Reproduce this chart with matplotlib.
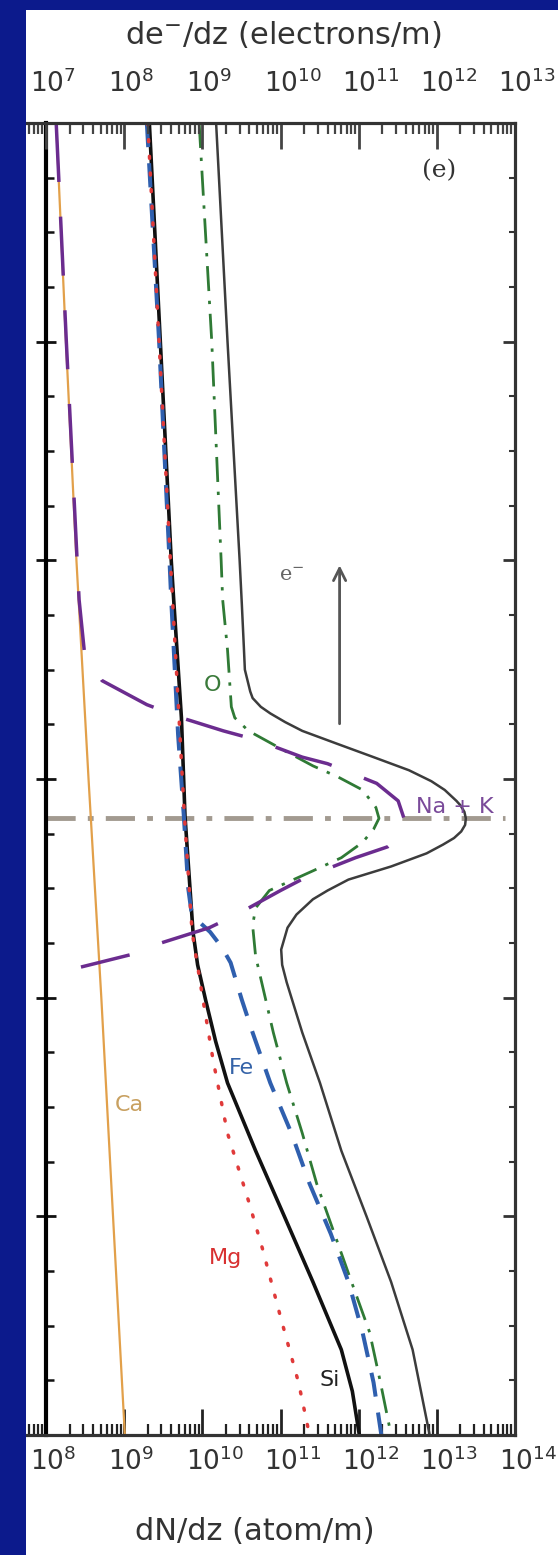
import matplotlib
matplotlib.use("Agg")
import matplotlib.pyplot as plt
from matplotlib.ticker import LogLocator, MultipleLocator, NullFormatter
from matplotlib.patches import Rectangle
from matplotlib.transforms import ScaledTranslation

plt.rcParams['font.family'] = ['DejaVu Sans']
plt.rcParams['mathtext.fontset'] = 'dejavusans'

# Altitude (km) and ablation rate dN/dz (atom/m) for each species
alt_total = [120, 110, 100, 98, 96, 95, 94, 93.7, 93.3, 93.0, 92.6, 92.2, 91.6, 91.0, 90.4,
             89.9, 89.5, 89.0, 88.8, 88.5, 88.2, 87.9, 87.6, 87.3, 87.0, 86.6, 86.0, 85.4,
             84.9, 84.5, 83.8, 83.2, 82.2, 81.5, 80.7, 78.4, 76.1, 73.0, 70.0, 67.0, 63.9, 60]
dndz_total = [1.5e10, 2.1e10, 3.0e10, 3.2e10, 3.4e10, 3.5e10, 4.1e10, 4.4e10, 5.6e10, 7.4e10,
              1.15e11, 1.9e11, 5.4e11, 1.55e12, 4.4e12, 8.5e12, 1.26e13, 1.78e13, 2.0e13,
              2.25e13, 2.35e13, 2.3e13, 2.05e13, 1.66e13, 1.2e13, 7.4e12, 2.6e12, 7.4e11,
              4.0e11, 2.6e11, 1.6e11, 1.23e11, 1.02e11, 1.05e11, 1.2e11, 1.9e11, 3.2e11,
              6.0e11, 1.26e12, 2.6e12, 4.9e12, 8.1e12]

alt_o = [120, 110, 100, 98.2, 95.9, 93.3, 92.8, 92.2, 91.3, 90.6, 90.1, 89.5, 88.7, 88.2,
         87.7, 87.1, 86.4, 85.8, 84.9, 84.1, 83.3, 81.9, 78.4, 76.1, 73.8, 71.5, 69.2, 67.0,
         64.7, 62.4, 60]
dndz_o = [9.1e9, 1.32e10, 1.74e10, 1.82e10, 2.1e10, 2.35e10, 2.6e10, 3.9e10, 1.12e11,
          2.6e11, 5.4e11, 1.12e12, 1.66e12, 1.82e12, 1.55e12, 1.12e12, 6.0e11, 2.6e11,
          7.2e10, 4.8e10, 4.4e10, 4.8e10, 8.1e10, 1.2e11, 1.9e11, 2.9e11, 4.9e11, 8.1e11,
          1.38e12, 1.9e12, 2.6e12]

alt_fe = [120, 110, 100, 98.2, 92, 88.3, 85, 84.0, 83.5, 83.0, 82.3, 81.6, 79.9, 78.4,
          76.1, 73.8, 71.5, 69.2, 67.0, 64.7, 62.4, 60]
dndz_fe = [1.95e9, 2.8e9, 3.8e9, 4.0e9, 4.9e9, 5.8e9, 6.6e9, 7.2e9, 8.9e9, 1.26e10,
           1.78e10, 2.3e10, 3.2e10, 4.4e10, 7.4e10, 1.38e11, 2.35e11, 4.4e11, 7.4e11,
           1.12e12, 1.55e12, 1.95e12]

alt_si = [120, 110, 100, 98.2, 92.8, 88.3, 83.0, 81.5, 79.9, 78, 76.1, 73.0, 70.0, 67.0,
          63.9, 62, 60]
dndz_si = [2.1e9, 2.9e9, 4.0e9, 4.3e9, 5.4e9, 6.0e9, 7.6e9, 8.7e9, 1.1e10, 1.48e10,
           2.1e10, 4.8e10, 1.12e11, 2.6e11, 6.0e11, 8.3e11, 1.02e12]

alt_mg = [120, 100, 88.3, 83.0, 79.9, 77.1, 73.8, 70.7, 68.5, 65.4, 62.4, 60]
dndz_mg = [2.0e9, 3.9e9, 5.9e9, 7.4e9, 1.02e10, 1.38e10, 2.1e10, 3.9e10, 5.9e10, 1.0e11,
           1.7e11, 2.35e11]

alt_ca = [120, 110, 100, 90, 80, 70, 60]
dndz_ca = [1.35e8, 1.8e8, 2.45e8, 3.5e8, 5.1e8, 7.2e8, 1.02e9]

alt_nak = [120, 110, 100, 98.2, 95.8, 94.5, 93.4, 92.8, 92.2, 91.8, 91.0, 90.7, 89.8, 89.0,
           88.2, 87.4, 86.9, 86.4, 85.5, 84.9, 83.8, 83.2, 82.5, 82.0, 81.4]
dndz_nak = [1.35e8, 1.82e8, 2.5e8, 2.65e8, 3.1e8, 5.2e8, 1.95e9, 5.4e9, 1.86e10, 4.8e10,
            1.9e11, 4.0e11, 1.7e12, 3.2e12, 3.8e12, 3.4e12, 2.35e12, 9.1e11, 2.1e11,
            1.0e11, 2.75e10, 1.23e10, 2.95e9, 1.32e9, 2.8e8]

peak_alt = 88.2                 # altitude of maximum ablation
arrow_x = 5.7e11
arrow_alt = (92.4, 99.9)

atom_decades = [8, 9, 10, 11, 12, 13, 14]
electron_decades = [7, 8, 9, 10, 11, 12, 13]

ALT_RANGE = (60, 120)
N_RANGE = (10 ** 7.744, 1e14)

navy = '#0c1a8c'
frame = '#333333'
label_col = '#333333'

fig = plt.figure(figsize=(5.58, 15.55), dpi=100)
fig.patch.set_facecolor('white')

ax = fig.add_axes([26 / 558, 120 / 1555, 489 / 558, 1312 / 1555])
ax.set_xscale('log')
ax.set_xlim(*N_RANGE)
ax.set_ylim(*ALT_RANGE)

# species profiles
ax.plot(dndz_total, alt_total, color='#3c3c3c', lw=1.8, zorder=3)
ax.plot(dndz_o, alt_o, color='#2f7a35', lw=2.0, dashes=(9, 3.5, 1.2, 3.5), zorder=3)
ax.plot(dndz_si, alt_si, color='#111111', lw=2.6, zorder=3)
ax.plot(dndz_fe, alt_fe, color='#2f5fae', lw=2.9, dashes=(6, 4), zorder=4)
ax.plot(dndz_mg, alt_mg, color='#e03a3a', lw=2.5, dashes=(0.6, 4.2),
        dash_capstyle='round', zorder=4)
ax.plot(dndz_ca, alt_ca, color='#e2a04a', lw=1.6, zorder=3)
ax.plot(dndz_nak, alt_nak, color='#6b2c8f', lw=2.5, dashes=(17, 10), zorder=4)

# level of peak ablation
ax.axhline(peak_alt, xmin=20 / 489, xmax=0.98, color='#a29a90', lw=3.5,
           dashes=(6, 2.5, 1.2, 2.5), zorder=2)

# electron production arrow
ax.annotate('', xy=(arrow_x, arrow_alt[1]), xytext=(arrow_x, arrow_alt[0]),
            arrowprops=dict(arrowstyle='->', color='#555555', lw=2,
                            mutation_scale=22), zorder=5)

txt_kw = dict(fontsize=16, ha='center', va='center', zorder=6)
ax.text(1.07e13, 117.8, '(e)', color='#333333', fontsize=18, ha='center', va='center',
        family='DejaVu Serif')
ax.text(1.38e11, 99.3, r'e$^{-}$', color='#666666', fontsize=15, ha='center',
        va='center', family='DejaVu Serif')
ax.text(1.35e10, 94.3, 'O', color='#3a7a3a', **txt_kw)
ax.text(1.7e13, 88.7, 'Na + K', color='#7a4a9a', **txt_kw)
ax.text(1.15e9, 75.1, 'Ca', color='#c8a060', **txt_kw)
ax.text(3.2e10, 76.8, 'Fe', color='#3563a8', **txt_kw)
ax.text(1.95e10, 68.1, 'Mg', color='#d83030', **txt_kw)
ax.text(4.2e11, 62.5, 'Si', color='#222222', **txt_kw)

# frame: the y axis sits at 1e8 on the atom scale
ax.spines['left'].set_position(('data', 1e8))
ax.spines['left'].set_linewidth(3)
ax.spines['left'].set_color('black')
for s in ('top', 'right', 'bottom'):
    ax.spines[s].set_linewidth(2.2)
    ax.spines[s].set_color(frame)
ax.spines['bottom'].set_color('#111111')

ax.yaxis.set_major_locator(MultipleLocator(10))
ax.yaxis.set_minor_locator(MultipleLocator(2.5))
ax.tick_params(axis='y', which='major', direction='inout', length=14, width=2,
               color='#111111', labelleft=False, right=False)
ax.tick_params(axis='y', which='minor', direction='in', length=6, width=1.8,
               color='#111111', right=False)

# right-hand ticks on a twin axis
axr = ax.twinx()
axr.set_ylim(*ALT_RANGE)
axr.yaxis.set_major_locator(MultipleLocator(10))
axr.yaxis.set_minor_locator(MultipleLocator(2.5))
axr.tick_params(axis='y', which='major', direction='in', length=9, width=2,
                color=frame, labelright=False)
axr.tick_params(axis='y', which='minor', direction='in', length=4, width=1.5, color=frame)
axr.spines['left'].set_visible(False)
for s in ('top', 'right', 'bottom'):
    axr.spines[s].set_linewidth(2.2)
    axr.spines[s].set_color(frame)

ax.xaxis.set_major_locator(LogLocator(base=10, numticks=20))
ax.xaxis.set_minor_locator(LogLocator(base=10, subs=range(2, 10), numticks=200))
ax.xaxis.set_major_formatter(NullFormatter())
ax.xaxis.set_minor_formatter(NullFormatter())
ax.tick_params(axis='x', which='major', direction='in', length=19, width=2,
               color='#222222', top=False)
ax.tick_params(axis='x', which='minor', direction='in', length=8, width=1.6,
               color='#222222', top=False)

# electron scale on top (one electron per ten atoms)
axt = ax.twiny()
axt.set_xscale('log')
axt.set_xlim(N_RANGE[0] / 10, N_RANGE[1] / 10)
axt.xaxis.set_major_locator(LogLocator(base=10, numticks=20))
axt.xaxis.set_minor_locator(LogLocator(base=10, subs=range(2, 10), numticks=200))
axt.xaxis.set_major_formatter(NullFormatter())
axt.xaxis.set_minor_formatter(NullFormatter())
axt.tick_params(axis='x', which='major', direction='in', length=19, width=2,
                color='#444444')
axt.tick_params(axis='x', which='minor', direction='in', length=8, width=1.6,
                color='#444444')
axt.spines['left'].set_visible(False)
for s in ('top', 'right', 'bottom'):
    axt.spines[s].set_linewidth(2.2)
    axt.spines[s].set_color(frame)

# decade labels: the mantissa "10" is centred on its tick, exponent to the right
shift_bot = ScaledTranslation(-0.165, -0.12, fig.dpi_scale_trans)
for e in atom_decades:
    ax.text(10.0 ** e, 0, r'$10^{%d}$' % e, transform=ax.get_xaxis_transform() + shift_bot,
            ha='left', va='top', fontsize=19, color=label_col)
shift_top = ScaledTranslation(-0.165, 0.25, fig.dpi_scale_trans)
for e in electron_decades:
    axt.text(10.0 ** e, 1, r'$10^{%d}$' % e, transform=axt.get_xaxis_transform() + shift_top,
             ha='left', va='bottom', fontsize=19, color=label_col)

fig.text(283 / 558, 1 - 34 / 1555, r'de$^{-}$/dz (electrons/m)', fontsize=22,
         color=label_col, ha='center', va='center')
fig.text(255 / 558, 1 - 1532 / 1555, 'dN/dz (atom/m)', fontsize=22,
         color=label_col, ha='center', va='center')

# slide background strips
fig.add_artist(Rectangle((0, 0), 26 / 558, 1, transform=fig.transFigure,
                         facecolor=navy, edgecolor='none', zorder=10))
fig.add_artist(Rectangle((0, 1 - 10 / 1555), 1, 10 / 1555, transform=fig.transFigure,
                         facecolor=navy, edgecolor='none', zorder=10))

fig.savefig('out.png', dpi=100, facecolor=fig.get_facecolor())
